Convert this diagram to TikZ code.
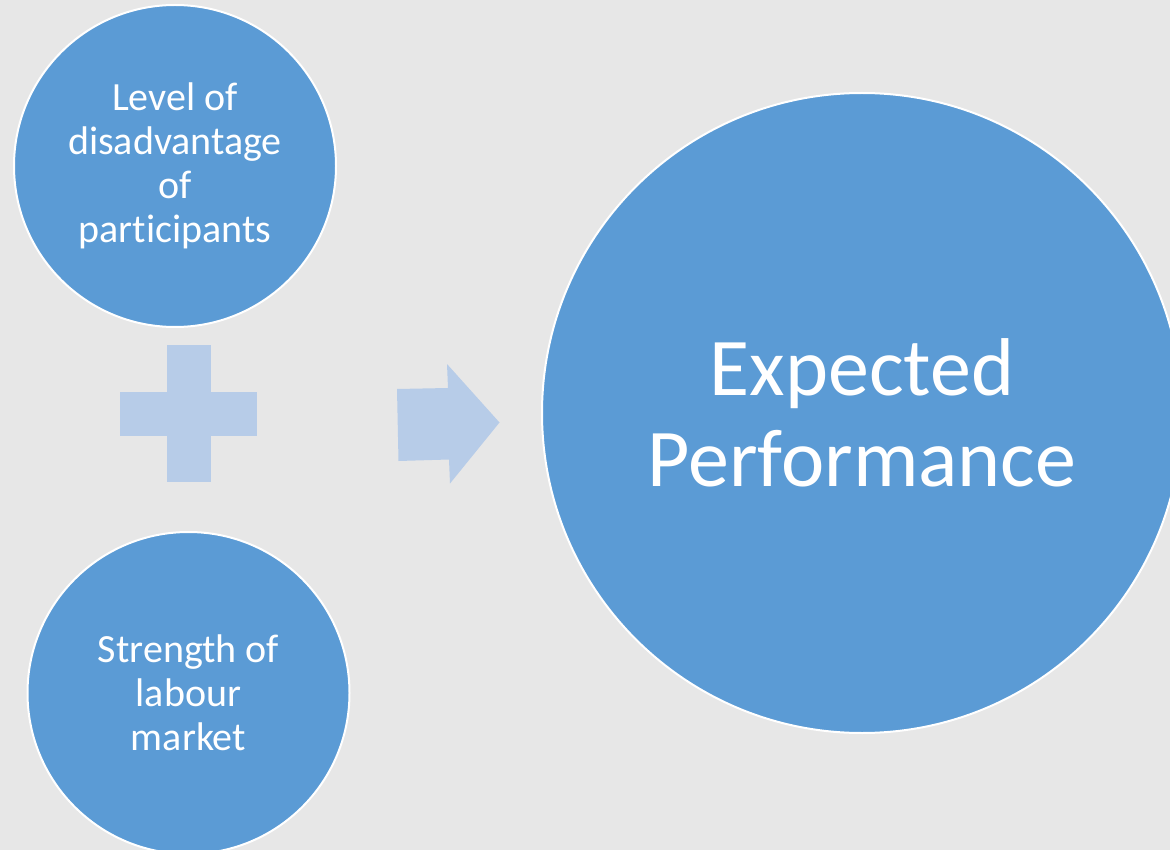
\documentclass[tikz,border=0pt]{standalone}
\usepackage{fontspec}
\setmainfont[Ligatures=NoCommon]{Carlito}
\definecolor{slidegrey}{HTML}{E7E7E7}
\definecolor{ballblue}{HTML}{5B9BD5}
\definecolor{signblue}{HTML}{B7CCE8}

\begin{document}
\begin{tikzpicture}[x=1pt,y=-1pt,
  ball/.style={circle,fill=ballblue,draw=white,line width=2pt,text=white,align=center,inner sep=0pt},
  small ball/.style={ball,minimum size=322pt,font=\fontsize{40}{44}\selectfont},
  big ball/.style={ball,minimum size=640pt,font=\fontsize{82}{91}\selectfont},
  sign/.style={fill=signblue}]

%slide background
\fill[slidegrey,use as bounding box] (0,0) rectangle (1170,850);
\clip (0,0) rectangle (1170,850);

%draw the three circles
\node[small ball] (disadvantage) at (175,166) {Level of\\disadvantage\\of\\participants};
\node[small ball] (labour) at (188.5,693) {Strength of\\labour\\market};
\node[big ball] (performance) at (862,413) {Expected\\Performance};

%plus sign between the two small circles
\fill[sign] (167,345) rectangle (211,482);
\fill[sign] (120,392) rectangle (257,436);

%arrow pointing at the big circle
\fill[sign] (397,389) -- (448,388) -- (447,364) -- (499.5,422.5) -- (450,483.5) -- (449,459.5) -- (398.5,461) -- cycle;

\end{tikzpicture}
\end{document}
